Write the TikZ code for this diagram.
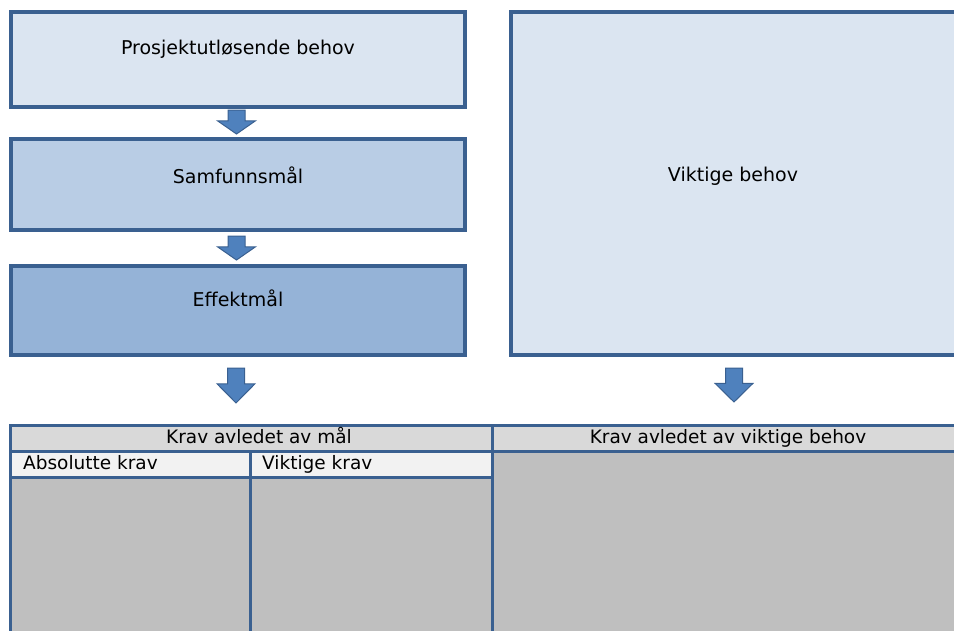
\documentclass[tikz,border=0pt]{standalone}
\usepackage{fontspec}
\setmainfont{DejaVu Sans}
\usetikzlibrary{calc}
\definecolor{bord}{HTML}{3A6090}
\definecolor{fillA}{HTML}{DBE5F1}
\definecolor{fillB}{HTML}{B9CDE5}
\definecolor{fillC}{HTML}{95B3D7}
\definecolor{arrfill}{HTML}{4F81BD}
\definecolor{hdr}{HTML}{D9D9D9}
\definecolor{sub}{HTML}{F2F2F2}
\definecolor{body}{HTML}{BFBFBF}
\tikzset{
  box/.style={draw=bord, line width=3.5pt},
  cell/.style={draw=bord, line width=3pt},
  txt/.style={font=\fontsize{19}{22}\selectfont, inner sep=0pt, text height=14pt, text depth=4pt},
  ttxt/.style={font=\fontsize{18.5}{22}\selectfont, inner sep=0pt, text height=14pt, text depth=4pt},
  arrowshape/.style={draw=bord, fill=arrfill, line width=1pt, line join=miter},
}
\newcommand{\downarr}[4]{% name, x center, y top, y tip
  \coordinate (#1) at (#2,#3);
  \path[arrowshape] ($(#1)+(-8.5,0)$) -- ($(#1)+(8.5,0)$) -- ($(#1)+(8.5,{0.45*(#4-#3)})$) -- ($(#1)+(19,{0.45*(#4-#3)})$) -- ($(#1)+(0,#4-#3)$) -- ($(#1)+(-19,{0.45*(#4-#3)})$) -- ($(#1)+(-8.5,{0.45*(#4-#3)})$) -- cycle;
}
\begin{document}
\begin{tikzpicture}[x=1pt,y=-1pt]
\useasboundingbox (0,0) rectangle (954,630);
\clip (0,0) rectangle (954,630);
% top-left boxes
\draw[box, fill=fillA] (11,12) rectangle (465,107);
\draw[box, fill=fillB] (11,139) rectangle (465,230);
\draw[box, fill=fillC] (11,266) rectangle (465,355);
\node[txt] (t1) at (238,49) {Prosjektutløsende behov};
\node[txt] (t2) at (238,178) {Samfunnsmål};
\node[txt] (t3) at (238,301) {Effektmål};
% right box
\draw[box, fill=fillA] (511,12) rectangle (970,355);
\node[txt] (t4) at (733,176) {Viktige behov};
% arrows
\downarr{a1}{236.5}{110}{134}
\downarr{a2}{236.5}{236}{260}
\downarr{a3}{236}{368}{403}
\downarr{a4}{734}{368}{402}
% table
\draw[cell, fill=hdr] (10,425) rectangle (492,451);
\draw[cell, fill=hdr] (492,425) rectangle (975,451);
\draw[cell, fill=sub] (10,451) rectangle (250,477);
\draw[cell, fill=sub] (250,451) rectangle (492,477);
\draw[cell, fill=body] (10,477) rectangle (250,660);
\draw[cell, fill=body] (250,477) rectangle (492,660);
\draw[cell, fill=body] (492,451) rectangle (975,660);
\node[ttxt] (h1) at (259,438) {Krav avledet av mål};
\node[ttxt] (h2) at (728,438) {Krav avledet av viktige behov};
\node[ttxt, anchor=west] (s1) at (23,464) {Absolutte krav};
\node[ttxt, anchor=west] (s2) at (262,464) {Viktige krav};
\end{tikzpicture}
\end{document}
